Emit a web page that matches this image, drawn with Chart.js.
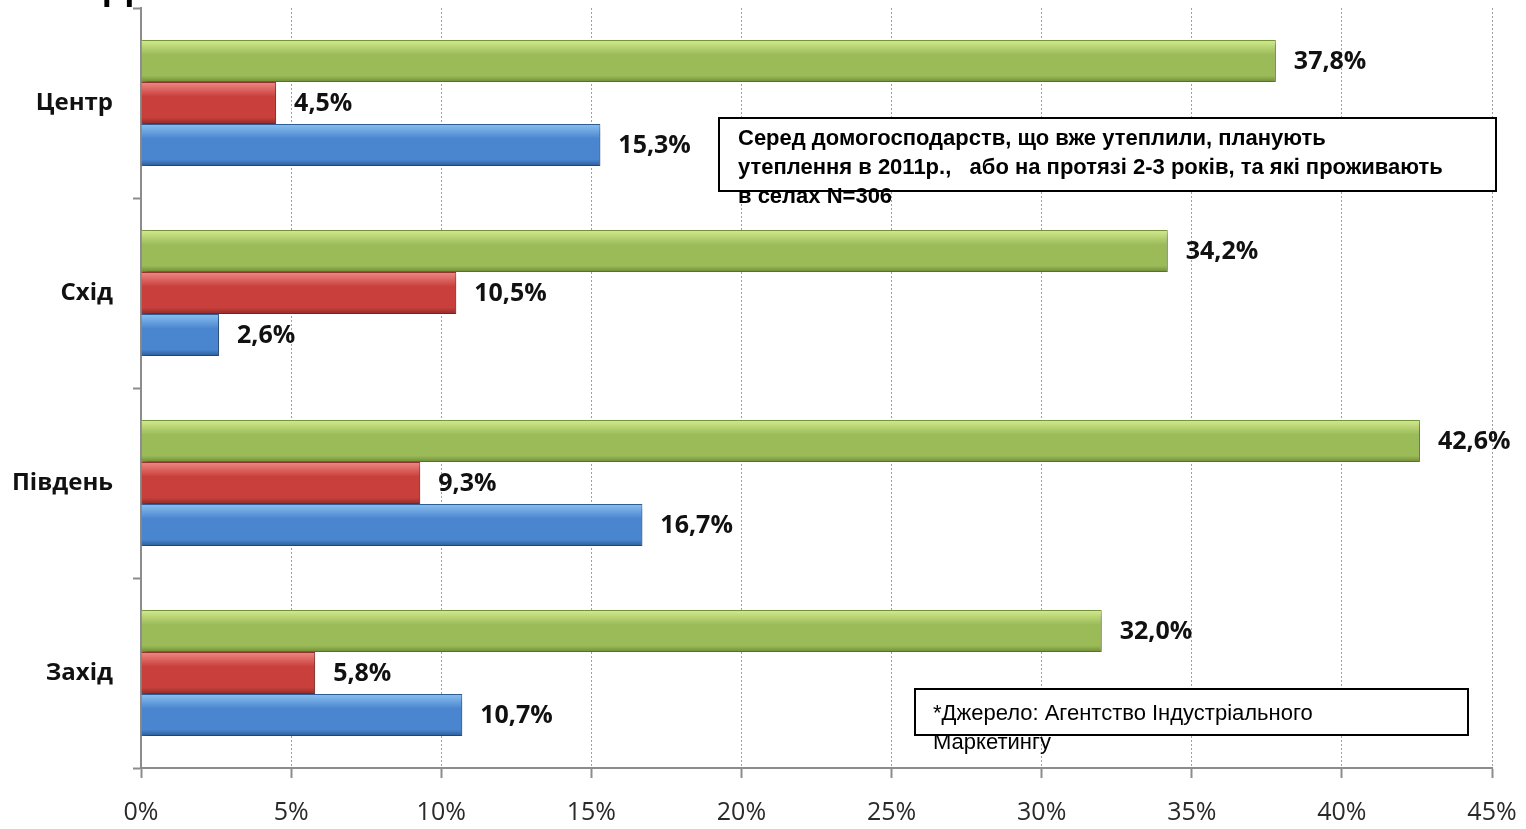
<!DOCTYPE html>
<html>
<head>
<meta charset="utf-8">
<script src="https://cdn.jsdelivr.net/npm/chart.js@4/dist/chart.umd.min.js"></script>
<style>
  body { margin: 0; background: #fff; }
  #wrap { position: relative; width: 1526px; height: 829px; overflow: hidden; }
  .note { position: absolute; box-sizing: border-box; border: 2px solid #000; background: #fff; color: #000; font-family: "Liberation Sans", Arial, sans-serif; white-space: nowrap; }
  #note1 { left: 718px; top: 117px; width: 779px; height: 75px; padding: 4px 0 0 18px; font-weight: bold; font-size: 22px; line-height: 29px; }
  #note2 { left: 914px; top: 688px; width: 555px; height: 48px; padding: 8px 0 0 17px; font-size: 22px; line-height: 29px; }
</style>
</head>
<body>
<div id="wrap">
  <canvas id="canvas"></canvas>
  <div class="note" id="note1">Серед домогосподарств, що вже утеплили, планують<br>утеплення в 2011р.,&nbsp;&nbsp; або на протязі 2-3 років, та які проживають<br>в селах N=306</div>
  <div class="note" id="note2">*Джерело: Агентство Індустріального<br>Маркетингу</div>
</div>
<script>
// regions, top to bottom
const regions = ['Центр', 'Схід', 'Південь', 'Захід'];
// three series, % of households
const greenVals = [37.8, 34.2, 42.6, 32.0];
const redVals = [4.5, 10.5, 9.3, 5.8];
const blueVals = [15.3, 2.6, 16.7, 10.7];

// gradient stops for the glossy bars: [top, middle, bottom]
const shades = [
  ['#d3ea8e', '#9bbb59', '#6f8c33'],
  ['#f08a86', '#c83f3b', '#8e2c2a'],
  ['#8cc0f0', '#4a86cf', '#2b5d99']
];

const barLook = {
  id: 'barLook',
  beforeDatasetsDraw(chart) {
    const ctx = chart.ctx;
    chart.data.datasets.forEach((ds, i) => {
      chart.getDatasetMeta(i).data.forEach(el => {
        const h = el.height;
        const g = ctx.createLinearGradient(0, el.y - h / 2, 0, el.y + h / 2);
        g.addColorStop(0, shades[i][0]);
        g.addColorStop(0.35, shades[i][1]);
        g.addColorStop(0.85, shades[i][1]);
        g.addColorStop(1, shades[i][2]);
        el.options.backgroundColor = g;
      });
    });
  },
  beforeDatasetDraw(chart) {
    const ctx = chart.ctx;
    ctx.save();
    ctx.shadowColor = 'rgba(0,0,0,0.35)';
    ctx.shadowBlur = 6;
    ctx.shadowOffsetX = 2;
    ctx.shadowOffsetY = 3;
  },
  afterDatasetDraw(chart) {
    chart.ctx.restore();
  },
  afterDatasetsDraw(chart) {
    const ctx = chart.ctx;
    ctx.save();
    ctx.font = 'bold 25px "Open Sans", sans-serif';
    ctx.fillStyle = '#111';
    ctx.textBaseline = 'middle';
    ctx.textAlign = 'left';
    chart.data.datasets.forEach((ds, i) => {
      chart.getDatasetMeta(i).data.forEach((el, j) => {
        const txt = ds.data[j].toFixed(1).replace('.', ',') + '%';
        ctx.fillText(txt, el.x + 18, el.y + 1);
      });
    });
    // cut-off title at the very top
    ctx.font = 'bold 40px "Liberation Sans", Arial, sans-serif';
    ctx.fillStyle = '#000';
    ctx.textBaseline = 'alphabetic';
    ctx.fillText('Д', 104, -1);
    ctx.restore();
  }
};

const canvas = document.getElementById('canvas');
const ctx = canvas.getContext('2d');
// scriptable colour so every bar keeps its own options object
const base = i => () => shades[i][1];
const config = {
  type: 'bar',
  data: {
    labels: regions,
    datasets: [
      { label: 'green', data: greenVals, backgroundColor: base(0), borderColor: '#7a9a3c', borderWidth: 1 },
      { label: 'red', data: redVals, backgroundColor: base(1), borderColor: '#9a3532', borderWidth: 1 },
      { label: 'blue', data: blueVals, backgroundColor: base(2), borderColor: '#2f5f9a', borderWidth: 1 }
    ]
  },
  options: {
    indexAxis: 'y',
    responsive: true,
    maintainAspectRatio: false,
    animation: false,
    categoryPercentage: 0.663,
    barPercentage: 1.0,
    layout: { padding: { top: 8, right: 34, left: 0, bottom: 0 } },
    plugins: { legend: { display: false }, tooltip: { enabled: false } },
    scales: {
      x: {
        min: 0, max: 45,
        ticks: {
          stepSize: 5,
          callback: v => v + '%',
          color: '#2a2a2a',
          font: { family: 'Open Sans', size: 25 },
          padding: 20
        },
        grid: {
          color: '#a0a0a0',
          tickBorderDash: [],
          tickColor: '#8c8c8c',
          tickWidth: 2,
          tickLength: 10,
          lineWidth: 1
        },
        border: { display: true, color: '#8c8c8c', width: 2, dash: [2, 2] },
        afterFit(scale) { scale.height = 61; scale.paddingLeft = 0; scale.paddingRight = 0; }
      },
      y: {
        ticks: {
          color: '#111',
          font: { family: 'Open Sans', size: 24, weight: 'bold' },
          padding: 20
        },
        grid: {
          offset: true,
          drawOnChartArea: false,
          tickLength: 8,
          tickColor: '#8c8c8c',
          tickWidth: 2
        },
        border: { display: true, color: '#8c8c8c', width: 2 },
        afterFit(scale) { scale.width = 141; scale.paddingTop = 0; scale.paddingBottom = 0; }
      }
    }
  },
  plugins: [barLook]
};
new Chart(ctx, config);
</script>
</body>
</html>
